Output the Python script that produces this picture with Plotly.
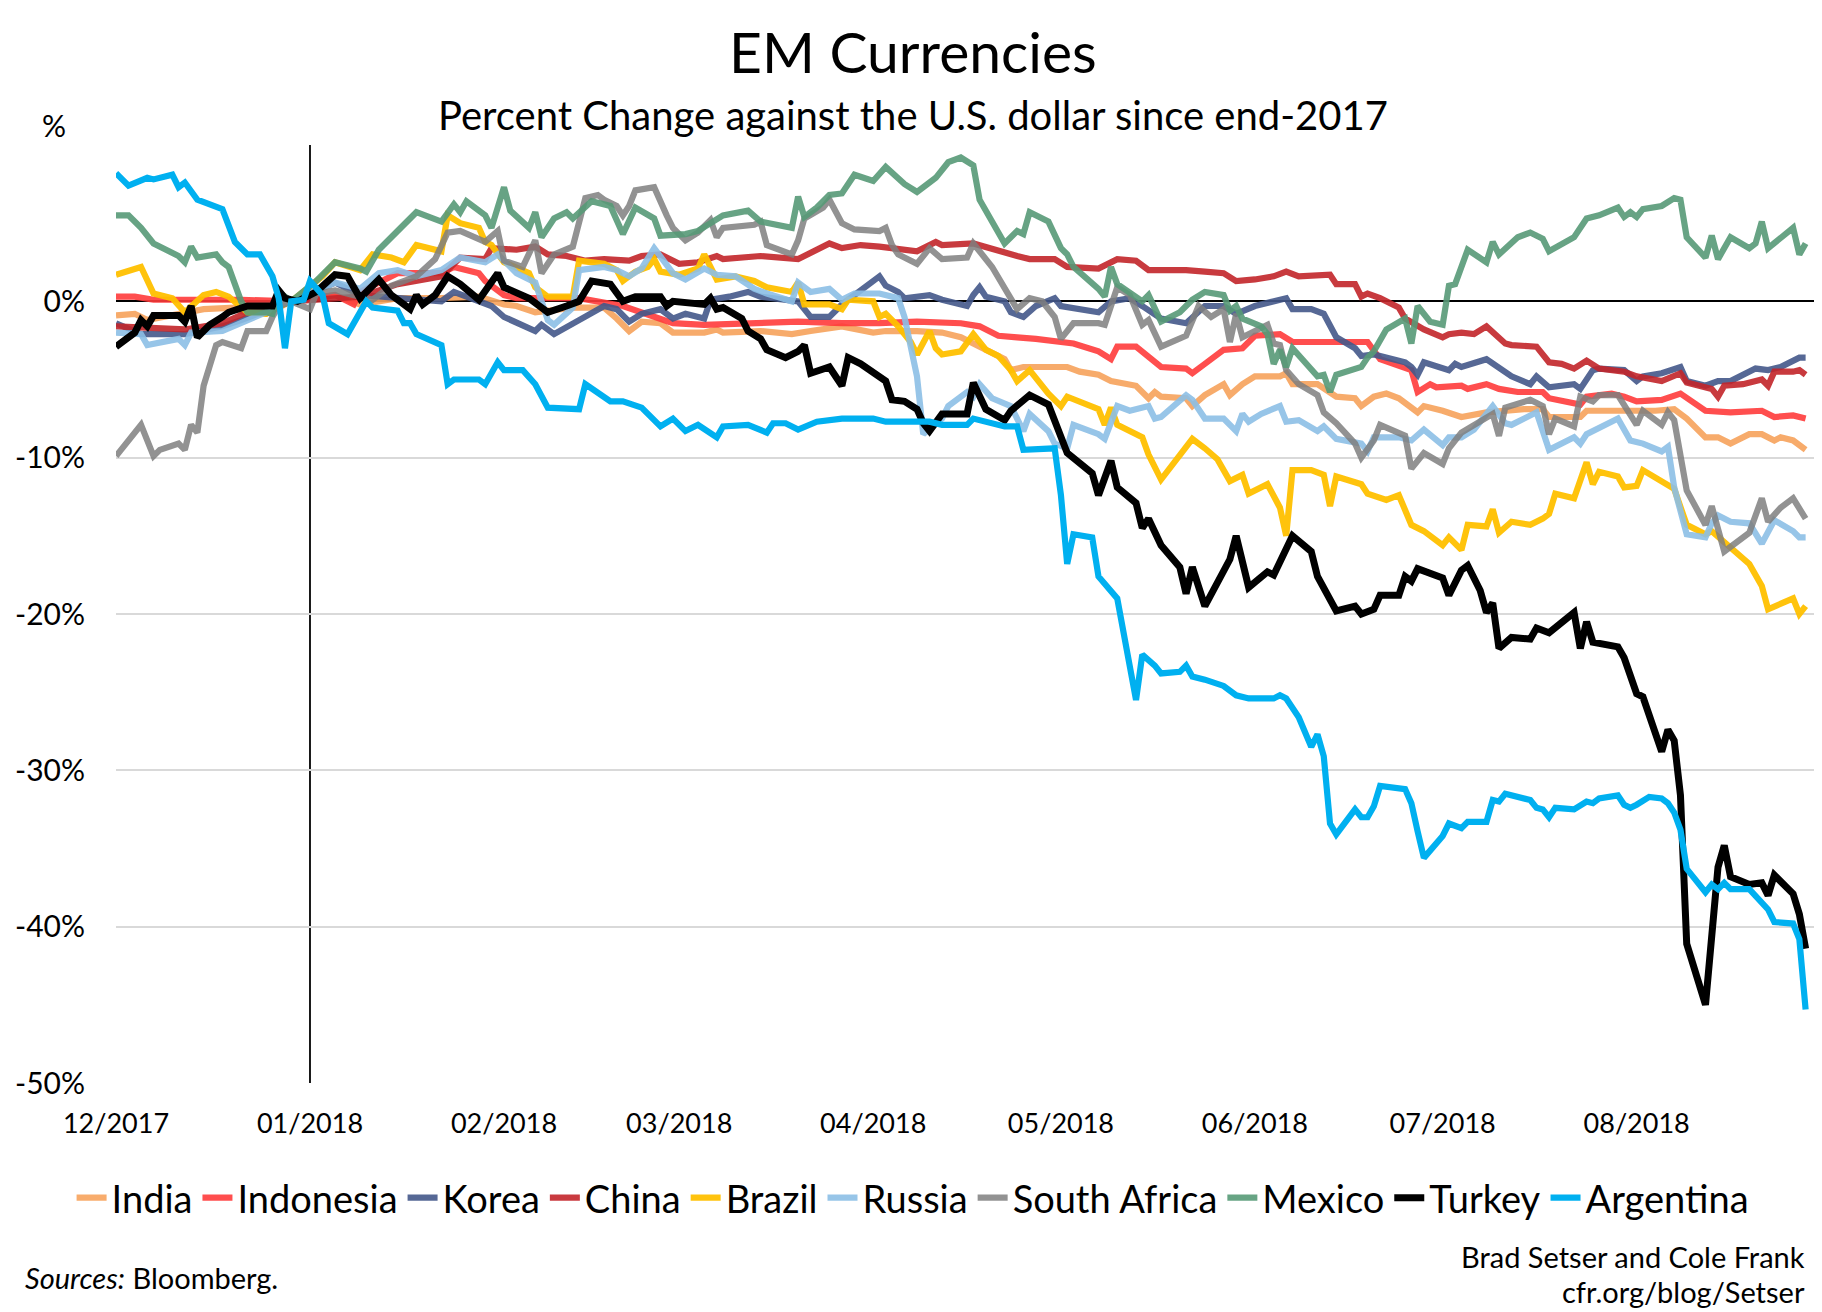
import pandas as pd
import plotly.graph_objects as go

START = pd.Timestamp("2017-12-01")

# ---- data: day offsets since 2017-12-01 and % change vs USD since end-2017 ----
india_days = [0,3,5,10,14,19,21,24,26,28,35,39,45,52,58,62,64,67,73,78,80,82,84,87,89,94,96,97,103,108,111,116,121,123,128,132,135,137,139,142,143,145,148,152,154,157,159,163,165,166,167,171,172,174,177,178,180,182,186,187,188,192,195,198,199,201,203,205,208,209,212,215,219,225,228,229,234,235,241,246,249,251,254,256,258,261,263,265,266,268,270]
india_vals = [-0.9,-0.8,-1.2,-0.8,-0.5,-0.4,-0.8,-0.8,-0.4,0.0,0.4,-0.2,0.2,0.2,0.3,-0.2,-0.3,-0.7,-0.4,-0.4,-1.1,-1.9,-1.3,-1.4,-2.0,-2.0,-1.8,-2.0,-1.9,-2.1,-1.9,-1.6,-2.0,-1.9,-1.9,-2.0,-2.3,-2.7,-3.2,-3.7,-4.4,-4.2,-4.2,-4.2,-4.5,-4.7,-5.1,-5.4,-6.2,-5.8,-6.1,-6.2,-6.7,-6.0,-5.3,-6.0,-5.3,-4.8,-4.8,-4.6,-5.3,-5.3,-6.1,-6.2,-6.7,-6.1,-5.9,-6.2,-7.1,-6.7,-7.0,-7.4,-7.1,-6.9,-6.9,-7.4,-7.4,-7.0,-7.0,-7.0,-6.9,-7.5,-8.7,-8.7,-9.1,-8.5,-8.5,-8.9,-8.7,-8.9,-9.5]

indonesia_days = [0,3,6,20,28,35,38,39,45,52,54,58,59,62,64,74,81,84,87,89,94,100,109,116,122,128,135,138,141,144,147,153,157,159,160,163,165,167,171,172,174,175,177,180,182,186,188,200,202,207,208,210,211,215,216,219,221,224,228,229,234,235,239,241,243,247,250,254,258,263,265,268,270]
indonesia_vals = [0.3,0.3,0.1,0.1,0.0,0.4,-0.2,0.6,1.8,1.8,2.2,1.8,1.3,0.4,0.2,0.2,-0.3,-0.7,-1.2,-1.4,-1.5,-1.4,-1.3,-1.4,-1.4,-1.3,-1.4,-1.6,-2.2,-2.3,-2.4,-2.7,-3.2,-3.7,-2.9,-2.9,-3.6,-4.2,-4.3,-4.6,-4.0,-3.7,-3.1,-3.0,-2.2,-2.1,-2.6,-2.6,-3.7,-4.4,-5.8,-5.3,-5.5,-5.4,-5.6,-5.3,-5.6,-5.8,-5.8,-6.2,-6.6,-6.1,-5.9,-6.1,-6.4,-6.3,-5.9,-7.0,-7.1,-7.0,-7.4,-7.3,-7.5]

korea_days = [0,4,11,17,20,23,26,28,35,39,52,54,60,62,67,68,70,74,76,78,80,82,84,87,89,91,94,95,98,101,103,106,109,111,114,116,118,122,123,125,126,130,132,136,137,138,139,142,143,145,147,150,151,157,159,162,164,167,171,172,174,177,179,182,185,187,188,191,193,195,198,199,201,203,206,207,208,209,213,214,215,219,222,223,226,227,229,233,234,236,237,241,243,244,247,250,251,254,256,258,262,264,266,268,269,270]
korea_vals = [-1.4,-2.1,-2.1,-1.6,-1.2,-0.8,-0.3,0.0,1.2,0.4,0.0,0.6,-0.3,-1.0,-1.9,-1.5,-2.1,-1.2,-0.7,-0.3,-0.5,-1.3,-0.8,-0.5,-1.1,-0.8,-1.1,0.1,0.3,0.6,0.3,0.1,0.0,-1.0,-1.0,-0.2,0.4,1.6,1.0,0.6,0.2,0.4,0.1,-0.3,0.4,0.9,0.3,0.0,-0.7,-1.0,-0.3,0.2,-0.3,-0.7,0.0,0.2,-0.3,-1.1,-1.4,-1.0,-0.3,-0.3,-0.8,-0.3,0.0,0.2,-0.5,-0.5,-0.8,-2.3,-3.0,-3.5,-3.4,-3.6,-3.9,-4.2,-4.7,-3.9,-4.4,-4.0,-4.2,-3.7,-4.6,-4.8,-5.3,-4.8,-5.5,-5.3,-5.6,-4.4,-4.3,-4.4,-5.1,-4.8,-4.6,-4.2,-5.1,-5.4,-5.1,-5.1,-4.3,-4.4,-4.2,-3.8,-3.6,-3.6]

china_days = [0,11,17,21,26,28,39,45,52,55,59,60,64,67,69,72,75,78,82,84,87,90,93,96,97,103,109,114,116,119,122,125,128,131,132,137,141,144,146,150,152,157,160,163,165,171,174,177,179,182,185,187,189,194,195,198,199,200,202,205,206,209,212,213,215,217,219,222,223,227,229,231,233,235,237,241,243,247,250,251,255,256,257,260,263,264,265,268,269,270]
china_vals = [-1.6,-1.8,-1.4,-0.7,-0.2,0.0,0.3,1.1,1.6,2.8,2.7,3.4,3.3,3.5,3.0,2.9,2.6,2.7,2.6,2.9,3.0,2.4,2.5,2.9,2.7,2.9,2.7,3.7,3.4,3.6,3.5,3.3,3.2,3.8,3.6,3.7,3.2,2.9,2.7,2.7,2.2,2.1,2.7,2.6,2.0,2.0,1.9,1.8,1.3,1.4,1.6,1.9,1.6,1.7,1.1,1.1,0.3,0.5,0.2,-0.4,-1.1,-1.8,-2.3,-2.1,-2.0,-2.1,-1.6,-2.7,-2.8,-2.9,-3.9,-4.0,-4.3,-3.8,-4.3,-4.5,-4.8,-5.1,-4.6,-5.2,-5.6,-6.1,-5.4,-5.3,-5.0,-5.4,-4.5,-4.5,-4.4,-4.7]

brazil_days = [0,4,6,9,11,14,16,18,21,24,26,28,33,35,39,41,44,46,48,52,53,55,58,59,60,62,66,67,69,73,74,78,80,81,83,85,86,87,90,93,94,96,99,102,104,108,109,110,114,116,117,121,122,123,125,127,128,130,131,132,135,137,139,141,143,144,146,149,151,152,157,158,159,160,164,165,167,169,172,174,176,178,180,181,184,186,187,188,191,193,194,195,199,200,203,205,207,209,212,213,215,216,219,220,221,223,226,228,229,230,233,235,236,237,240,241,243,244,247,249,251,254,255,258,261,263,264,268,269,270]
brazil_vals = [1.7,2.2,0.5,0.2,-0.7,0.4,0.6,0.3,-0.7,-0.8,-0.3,0.0,1.6,2.5,2.0,3.0,2.8,2.5,3.6,3.2,5.5,5.0,4.7,3.8,3.6,2.5,1.8,0.9,0.3,0.3,2.6,2.4,2.0,1.3,1.9,2.2,2.7,1.9,1.7,2.1,3.0,1.4,1.6,1.3,0.9,0.6,1.2,-0.2,-0.2,-0.5,0.1,0.0,-1.0,-0.8,-1.6,-2.6,-3.4,-1.9,-3.0,-3.4,-3.2,-2.1,-3.1,-3.5,-4.4,-5.1,-4.4,-5.9,-6.7,-6.1,-6.9,-7.9,-6.8,-7.9,-8.7,-9.8,-11.4,-10.3,-8.8,-9.4,-10.1,-11.5,-11.1,-12.3,-11.7,-13.2,-15.0,-10.8,-10.8,-11.1,-13.1,-11.2,-11.7,-12.3,-12.7,-12.4,-14.3,-14.7,-15.6,-15.1,-15.9,-14.3,-14.4,-13.3,-14.8,-14.1,-14.3,-13.9,-13.6,-12.3,-12.6,-10.3,-11.7,-10.9,-11.2,-11.9,-11.8,-10.8,-11.5,-12.0,-14.3,-14.9,-14.7,-15.7,-16.8,-18.2,-19.7,-19.0,-20.0,-19.5]

russia_days = [0,4,5,10,11,12,17,20,24,26,28,35,39,42,45,48,52,55,59,61,64,67,69,70,73,74,78,80,82,84,86,89,91,94,96,99,102,104,108,109,111,114,116,118,122,125,126,128,129,132,133,136,137,138,140,143,145,146,149,150,152,153,157,158,160,162,165,166,167,171,172,174,177,179,180,181,183,186,187,189,192,193,195,199,200,201,205,207,209,212,213,215,217,220,222,223,227,229,233,234,235,240,241,242,244,247,248,249,251,254,255,256,258,261,263,265,268,269,270]
russia_vals = [-2.0,-2.1,-2.8,-2.4,-2.8,-2.0,-1.9,-1.4,-0.7,-0.2,0.0,1.2,0.8,1.8,2.0,1.6,2.0,2.8,2.5,3.0,1.8,1.2,-1.2,-1.5,-0.4,2.0,2.2,2.0,1.6,2.1,3.4,1.8,1.4,2.1,1.7,1.6,0.8,0.5,0.0,1.2,0.6,0.8,0.1,0.5,0.5,0.2,-1.0,-4.8,-8.5,-7.5,-6.7,-5.8,-6.1,-5.3,-6.2,-6.7,-8.3,-7.2,-8.3,-9.1,-9.4,-7.9,-8.5,-8.8,-6.7,-7.0,-6.7,-7.5,-7.4,-6.0,-6.3,-7.5,-7.5,-8.3,-7.2,-7.7,-7.2,-6.7,-7.7,-7.6,-8.3,-8.0,-8.8,-9.1,-9.6,-8.7,-8.7,-8.9,-8.2,-9.2,-8.7,-8.7,-8.2,-6.7,-7.8,-7.9,-7.1,-9.5,-8.7,-9.1,-8.5,-7.5,-8.2,-8.9,-9.1,-9.6,-9.3,-11.9,-14.9,-15.1,-14.2,-13.7,-14.1,-14.2,-15.5,-14.0,-14.7,-15.1,-15.1]

safrica_days = [0,4,6,7,10,11,12,13,14,16,17,19,20,21,24,25,26,28,31,32,35,41,44,48,51,53,55,59,61,62,65,67,68,70,73,75,77,78,79,80,81,82,83,86,88,89,91,93,95,96,97,102,103,104,108,109,110,113,114,116,118,122,123,124,125,128,130,132,136,137,140,142,144,146,148,150,151,153,157,158,160,162,164,165,167,171,172,173,175,177,178,179,180,184,185,186,187,189,192,193,195,198,199,201,202,205,206,207,209,212,213,215,217,220,221,222,226,228,229,230,233,234,236,237,240,241,243,244,247,248,249,251,254,255,257,261,263,264,266,268,270]
safrica_vals = [-9.9,-7.9,-9.9,-9.5,-9.1,-9.5,-7.9,-8.4,-5.4,-2.8,-2.6,-2.8,-3.0,-1.9,-1.9,-1.0,-0.3,0.0,-0.5,0.5,0.7,0.1,1.0,1.6,2.7,4.4,4.5,3.8,4.5,2.6,2.2,3.9,1.8,3.0,3.5,6.6,6.8,6.5,6.3,6.1,5.5,6.1,7.1,7.3,5.5,4.7,3.9,4.4,5.2,4.1,4.7,4.9,5.1,3.6,3.0,3.9,5.3,6.0,6.5,5.0,4.6,4.5,4.7,3.6,3.0,2.4,3.4,2.7,2.8,3.7,2.2,0.8,-0.5,0.2,0.0,-1.0,-2.4,-1.4,-1.4,-1.5,0.9,0.4,-1.5,-1.2,-2.9,-2.2,-1.2,-0.3,-1.0,-0.5,-2.6,-0.8,-2.3,-1.5,-2.7,-2.8,-4.4,-5.3,-6.0,-7.1,-7.8,-9.1,-10.0,-8.9,-7.9,-8.5,-8.6,-10.7,-9.7,-10.4,-9.4,-8.4,-7.9,-7.2,-8.6,-6.8,-6.3,-6.7,-8.5,-7.5,-8.0,-6.1,-6.4,-6.0,-6.0,-6.7,-7.9,-7.0,-7.9,-7.1,-7.6,-12.1,-14.3,-13.1,-16.0,-14.8,-12.6,-14.1,-13.2,-12.6,-13.9]

mexico_days = [0,2,4,6,8,10,11,12,13,16,17,18,20,21,24,25,26,28,32,35,39,40,42,44,48,52,54,55,56,59,60,62,63,66,67,68,70,72,73,76,79,81,83,86,87,91,93,97,101,103,108,109,110,112,114,116,118,121,123,126,128,130,131,133,135,137,138,142,144,145,146,149,151,152,153,157,158,159,160,164,165,167,170,172,174,177,178,179,180,183,184,185,186,187,188,192,193,194,195,199,200,201,203,206,207,208,210,212,213,214,216,219,220,221,224,226,228,229,233,235,237,240,241,242,243,244,247,249,250,251,254,255,256,258,261,262,263,264,266,268,269,270]
mexico_vals = [5.5,5.5,4.7,3.7,3.3,2.9,2.5,3.5,2.8,3.0,2.5,2.2,0.0,-0.7,-0.7,-0.8,0.6,0.0,1.3,2.5,2.1,1.9,3.3,4.1,5.7,5.1,6.2,5.7,6.4,5.5,4.7,7.3,5.8,4.7,5.7,4.1,5.3,5.7,5.3,6.4,6.1,4.3,6.0,5.3,4.2,4.3,4.5,5.5,5.8,5.1,4.7,6.7,5.4,6.0,6.8,6.9,8.1,7.7,8.6,7.5,7.0,7.6,7.9,8.9,9.2,8.7,6.5,3.7,4.5,4.3,5.7,5.1,3.4,3.0,2.2,0.8,0.3,2.2,1.1,0.0,0.4,-1.3,-0.7,0.1,0.6,0.4,-0.6,-0.3,-1.1,-1.6,-2.1,-4.0,-3.1,-4.2,-3.0,-4.8,-4.7,-5.8,-4.7,-4.2,-3.6,-3.2,-1.8,-1.1,-2.7,-0.3,-1.3,-1.5,1.0,1.1,3.3,2.5,3.8,3.0,4.1,4.4,4.0,3.2,4.1,5.3,5.5,6.0,5.4,5.7,5.4,5.9,6.1,6.6,6.5,4.1,2.8,4.2,2.7,4.1,3.4,3.7,5.1,3.4,4.1,4.7,3.0,3.7]

turkey_days = [0,3,4,5,6,10,11,12,13,15,17,18,21,25,26,27,29,32,35,37,39,42,44,45,47,48,49,51,53,55,58,61,62,66,69,72,74,76,79,81,83,87,88,89,94,95,96,97,100,101,103,104,107,109,110,111,114,116,117,119,121,123,124,126,128,129,130,132,136,137,139,142,143,146,149,151,152,156,157,159,160,163,164,165,167,170,171,172,174,178,179,181,184,185,187,188,191,192,195,198,199,201,202,205,206,207,208,212,213,215,216,218,219,220,221,223,226,227,229,233,234,235,236,240,241,243,244,247,248,249,250,251,254,256,257,258,261,263,264,265,268,269,270]
turkey_vals = [-2.9,-2.0,-1.2,-1.6,-0.9,-0.9,-1.3,-0.3,-2.3,-1.5,-1.0,-0.7,-0.3,-0.3,0.7,0.2,0.0,0.6,1.7,1.6,0.2,1.4,0.4,0.1,-0.5,0.4,-0.2,0.4,1.6,1.1,0.1,1.8,0.9,0.2,-0.7,-0.3,0.0,1.3,1.1,0.0,0.3,0.3,-0.3,0.0,-0.2,0.2,-0.5,-0.4,-1.1,-1.9,-2.4,-3.1,-3.6,-3.2,-2.8,-4.6,-4.2,-5.4,-3.6,-4.0,-4.5,-5.1,-6.3,-6.4,-6.9,-7.8,-8.3,-7.2,-7.2,-5.2,-6.9,-7.6,-7.0,-6.0,-6.6,-8.5,-9.7,-11.0,-12.4,-10.2,-11.9,-12.9,-14.5,-13.9,-15.6,-17.0,-18.7,-17.0,-19.5,-16.5,-15.0,-18.3,-17.3,-17.5,-15.8,-15.0,-16.0,-17.6,-19.8,-19.5,-20.0,-19.7,-18.8,-18.8,-17.6,-17.9,-17.1,-17.7,-18.8,-17.2,-16.9,-18.5,-19.9,-19.3,-22.2,-21.5,-21.6,-20.9,-21.2,-19.9,-22.2,-20.5,-21.8,-22.1,-22.8,-25.1,-25.3,-28.8,-27.4,-28.1,-31.6,-41.1,-45.0,-36.2,-34.8,-36.8,-37.3,-37.2,-38.0,-36.7,-37.9,-39.2,-41.4]

argentina_days = [0,2,5,6,9,10,11,13,17,19,21,23,25,26,27,28,30,31,33,34,37,40,41,45,46,47,48,52,53,54,58,59,61,62,65,67,69,74,75,77,79,81,84,87,89,91,93,96,97,101,104,105,107,109,112,116,121,123,130,132,136,137,142,144,145,150,151,152,153,156,157,160,163,164,166,167,170,171,172,174,177,179,181,185,186,187,189,191,192,193,194,195,198,199,200,201,202,206,207,208,209,212,213,215,216,219,220,221,222,226,227,228,229,230,233,235,236,237,240,241,242,243,245,247,248,249,250,251,254,255,256,257,258,261,262,264,265,268,269,270]
argentina_vals = [8.2,7.4,7.9,7.8,8.1,7.3,7.6,6.5,5.9,3.8,3.0,3.0,1.6,0.2,-3.0,0.0,0.1,1.3,0.4,-1.4,-2.1,0.0,-0.4,-0.6,-1.4,-1.4,-2.1,-2.8,-5.3,-5.0,-5.0,-5.3,-3.9,-4.4,-4.4,-5.3,-6.8,-6.9,-5.3,-5.9,-6.4,-6.4,-6.8,-8.0,-7.5,-8.3,-7.9,-8.7,-8.0,-7.9,-8.4,-7.8,-7.8,-8.2,-7.7,-7.5,-7.5,-7.7,-7.7,-7.9,-7.9,-7.5,-8.0,-8.0,-9.5,-9.4,-12.4,-16.8,-14.9,-15.1,-17.6,-19.0,-25.5,-22.6,-23.3,-23.8,-23.7,-23.3,-24.0,-24.2,-24.6,-25.2,-25.4,-25.4,-25.2,-25.4,-26.6,-28.5,-27.7,-29.1,-33.4,-34.1,-32.5,-33.0,-33.0,-32.3,-31.0,-31.2,-32.1,-33.9,-35.6,-34.2,-33.4,-33.7,-33.3,-33.3,-31.9,-32.0,-31.5,-31.9,-32.4,-32.5,-33.0,-32.4,-32.5,-32.0,-32.1,-31.8,-31.6,-32.2,-32.4,-32.2,-31.7,-31.8,-32.1,-32.7,-33.8,-36.3,-37.8,-37.3,-37.6,-37.2,-37.6,-37.6,-38.0,-38.9,-39.7,-39.8,-40.8,-45.3]

series = [
    ("India", india_days, india_vals, "#F7A35C", 6.2, 0.9),
    ("Indonesia", indonesia_days, indonesia_vals, "#FF3B3B", 6.2, 0.9),
    ("Korea", korea_days, korea_vals, "#44588A", 6.2, 0.9),
    ("China", china_days, china_vals, "#C3252A", 6.2, 0.9),
    ("Brazil", brazil_days, brazil_vals, "#FFC000", 6.2, 0.95),
    ("Russia", russia_days, russia_vals, "#8CBFE6", 6.2, 0.9),
    ("South Africa", safrica_days, safrica_vals, "#7F7F7F", 6.2, 0.85),
    ("Mexico", mexico_days, mexico_vals, "#579A77", 6.2, 0.9),
    ("Turkey", turkey_days, turkey_vals, "#000000", 7.0, 1.0),
    ("Argentina", argentina_days, argentina_vals, "#00B0F0", 6.2, 1.0),
]

FONT = "Lato"

fig = go.Figure()
for name, days, vals, color, width, op in series:
    x = START + pd.to_timedelta(days, unit="D")
    fig.add_trace(go.Scatter(x=x, y=vals, mode="lines", name=name, opacity=op,
                             line=dict(color=color, width=width, shape="linear")))

y_tickvals = [10, 0, -10, -20, -30, -40, -50]
y_ticktext = ["", "0%", "-10%", "-20%", "-30%", "-40%", "-50%"]

# page has an 8px body margin, so the figure is offset by 8px; plot area in page px:
L, R, T, B = 113, 1815, 145, 1083
PW, PH = R - L, B - T
def xpaper(px):
    return (px - L) / PW
def ypaper(px):
    return (B - px) / PH

fig.update_layout(
    width=1814, height=1304,
    margin=dict(l=L - 8, r=1814 - (R - 8), t=T - 8, b=1304 - (B - 8)),
    paper_bgcolor="white", plot_bgcolor="white",
    font=dict(family=FONT, color="black", size=28),
    showlegend=True,
    legend=dict(orientation="h", x=xpaper(911), xanchor="center", y=ypaper(1198), yanchor="middle",
                font=dict(size=38, family=FONT), itemwidth=30, tracegroupgap=0,
                bgcolor="rgba(0,0,0,0)"),
    xaxis=dict(type="date", range=["2017-12-01", "2018-08-29 12:00"],
               tick0="2017-12-01", dtick="M1", tickformat="%m/%Y",
               showgrid=False, showline=False, zeroline=False, ticks="",
               tickfont=dict(size=27, family=FONT), ticklabelstandoff=22),
    yaxis=dict(range=[-50, 10], tickvals=y_tickvals, ticktext=y_ticktext,
               showgrid=True, gridcolor="#D9D9D9", gridwidth=2,
               zeroline=True, zerolinecolor="black", zerolinewidth=1.8,
               showline=False, ticks="",
               tickfont=dict(size=30, family=FONT), ticklabelstandoff=30),
    shapes=[dict(type="line", xref="x", yref="paper", x0="2018-01-01", x1="2018-01-01",
                 y0=0, y1=1, line=dict(color="black", width=1.8), layer="below")],
    annotations=[
        dict(text="EM Currencies", x=xpaper(911), xref="paper", xanchor="center",
             y=ypaper(51), yref="paper", yanchor="middle", showarrow=False,
             font=dict(size=57, family=FONT)),
        dict(text="Percent Change against the U.S. dollar since end-2017", x=xpaper(911),
             xref="paper", xanchor="center", y=ypaper(115), yref="paper", yanchor="middle",
             showarrow=False, font=dict(size=40, family=FONT)),
        dict(text="%", x=xpaper(51), xref="paper", xanchor="center",
             y=ypaper(125), yref="paper", yanchor="middle", showarrow=False,
             font=dict(size=30, family=FONT)),
        dict(text="<i>Sources:</i> Bloomberg.", x=xpaper(20), xref="paper",
             xanchor="left", y=ypaper(1277), yref="paper", yanchor="middle", showarrow=False,
             font=dict(size=29, family=FONT)),
        dict(text="Brad Setser and Cole Frank", x=xpaper(1807), xref="paper",
             xanchor="right", y=ypaper(1256), yref="paper", yanchor="middle", showarrow=False,
             font=dict(size=29, family=FONT)),
        dict(text="cfr.org/blog/Setser", x=xpaper(1807), xref="paper",
             xanchor="right", y=ypaper(1291), yref="paper", yanchor="middle", showarrow=False,
             font=dict(size=29, family=FONT)),
    ],
)

fig.write_html("out.html")
